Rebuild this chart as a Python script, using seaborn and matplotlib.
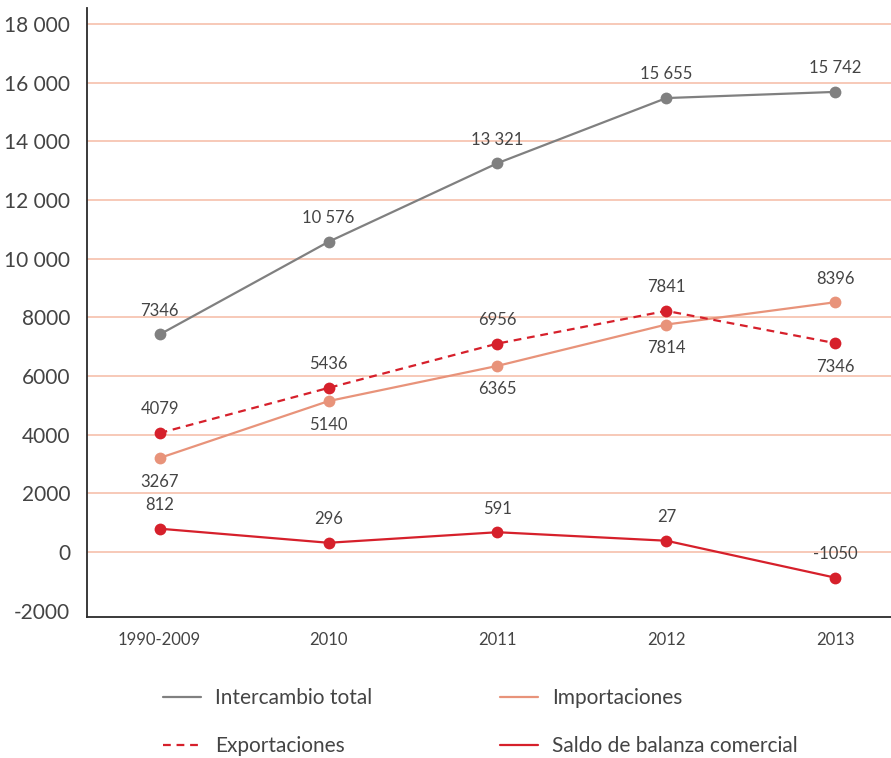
import numpy as np
import pandas as pd
import matplotlib.pyplot as plt
from matplotlib.lines import Line2D
from matplotlib.ticker import FuncFormatter
import seaborn as sns

# Data (marker positions, label texts as printed)
categories = ["1990-2009", "2010", "2011", "2012", "2013"]
intercambio = [7420, 10580, 13260, 15480, 15690]
importaciones = [3210, 5150, 6350, 7760, 8520]
exportaciones = [4060, 5600, 7110, 8225, 7125]
saldo = [800, 320, 680, 390, -870]

intercambio_lbl = ["7346", "10 576", "13 321", "15 655", "15 742"]
importaciones_lbl = ["3267", "5140", "6365", "7814", "8396"]
exportaciones_lbl = ["4079", "5436", "6956", "7841", "7346"]
saldo_lbl = ["812", "296", "591", "27", "-1050"]

y_ticks = [-2000, 0, 2000, 4000, 6000, 8000, 10000, 12000, 14000, 16000, 18000]

GRAY = "#808080"
SALMON = "#e8937a"
RED = "#d6202b"
TEXT = "#444444"
GRID = "#f7c9b8"

sns.set_style("white")
plt.rcParams["font.family"] = ["Lato", "DejaVu Sans"]

fig = plt.figure(figsize=(8.91, 7.58), dpi=100)
ax = fig.add_axes([87 / 891, 1 - 616.7 / 758, 1 - 87 / 891, (616.7 - 8) / 758])

df = pd.DataFrame({"cat": categories, "intercambio": intercambio,
                   "importaciones": importaciones, "exportaciones": exportaciones,
                   "saldo": saldo})

common = dict(marker="o", markersize=8.5, markeredgewidth=0, linewidth=1.6, ax=ax)
sns.lineplot(data=df, x="cat", y="intercambio", color=GRAY, **common)
sns.lineplot(data=df, x="cat", y="importaciones", color=SALMON, **common)
sns.lineplot(data=df, x="cat", y="exportaciones", color=RED, linestyle=(0, (3.5, 2.6)), **common)
sns.lineplot(data=df, x="cat", y="saldo", color=RED, **common)

# value labels: +1 above, -1 below
def add_labels(values, texts, sides):
    for i, (v, t, s) in enumerate(zip(values, texts, sides)):
        ax.annotate(t, (i, v), xytext=(0, 17 * s), textcoords="offset points",
                    ha="center", va="center", fontsize=12, color=TEXT)

add_labels(intercambio, intercambio_lbl, [1, 1, 1, 1, 1])
add_labels(importaciones, importaciones_lbl, [-1, -1, -1, -1, 1])
add_labels(exportaciones, exportaciones_lbl, [1, 1, 1, 1, -1])
add_labels(saldo, saldo_lbl, [1, 1, 1, 1, 1])

# axes styling
ax.set_xlim(-0.43, 4.33)
ax.set_ylim(-2200, 18550)
ax.set_yticks(y_ticks)
ax.yaxis.set_major_formatter(FuncFormatter(
    lambda v, p: f"{v:,.0f}".replace(",", " ") if abs(v) >= 10000 else f"{v:.0f}"))
for t in y_ticks[1:]:
    ax.axhline(t, color=GRID, linewidth=1.4, zorder=0)

ax.set_xlabel("")
ax.set_ylabel("")
ax.tick_params(axis="y", length=0, pad=12, labelsize=15, labelcolor=TEXT)
ax.tick_params(axis="x", length=0, pad=11, labelsize=12, labelcolor=TEXT)

for side in ["top", "right"]:
    ax.spines[side].set_visible(False)
for side in ["left", "bottom"]:
    ax.spines[side].set_color("#2b2b2b")
    ax.spines[side].set_linewidth(1.3)

# legend: two columns placed under the chart
leg_kw = dict(loc="upper left", frameon=False, fontsize=15, handlelength=1.8,
              handletextpad=0.7, labelspacing=1.35, borderpad=0, borderaxespad=0,
              labelcolor=TEXT)
h1 = [Line2D([], [], color=GRAY, lw=1.6),
      Line2D([], [], color=RED, lw=1.6, linestyle=(0, (3.5, 2.6)))]
h2 = [Line2D([], [], color=SALMON, lw=1.6),
      Line2D([], [], color=RED, lw=1.6)]
leg1 = fig.legend(h1, ["Intercambio total", "Exportaciones"],
                  bbox_to_anchor=(163 / 891, 1 - 688 / 758), **leg_kw)
leg2 = fig.legend(h2, ["Importaciones", "Saldo de balanza comercial"],
                  bbox_to_anchor=(500 / 891, 1 - 688 / 758), **leg_kw)

fig.savefig("out.png", dpi=100)
